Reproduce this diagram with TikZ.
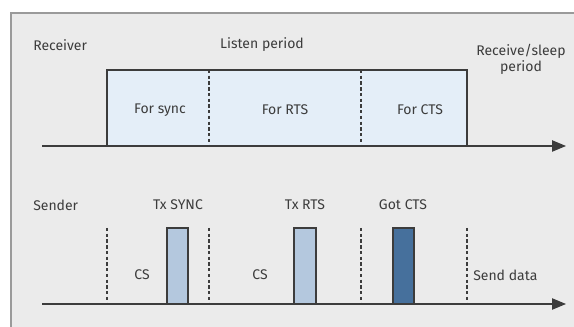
\documentclass[tikz,border=0pt]{standalone}
\usepackage{fontspec}
\setmainfont{Fira Sans}
\usepackage{xcolor}
\usepackage{tikz}
\usetikzlibrary{arrows.meta}

\definecolor{panelgray}{HTML}{EBEBEB}
\definecolor{framegray}{HTML}{9A9A9A}
\definecolor{lightblue}{HTML}{E4EEF8}
\definecolor{barblue}{HTML}{B4C8DE}
\definecolor{darkblue}{HTML}{46709C}
\definecolor{inkgray}{HTML}{3C3C3C}

\begin{document}
\begin{tikzpicture}[x=0.75pt, y=-0.75pt,
    lbl/.style={font=\fontsize{10.5}{12}\selectfont, text=inkgray, inner sep=0pt},
    axis/.style={draw=inkgray, line width=1pt, -{Triangle[length=10.5pt, width=8.5pt]}},
    edge/.style={draw=inkgray, line width=1pt},
    sep/.style={draw=inkgray, line width=0.9pt, dash pattern=on 2.5pt off 1.8pt}]
    \useasboundingbox (0,0) rectangle (574,327);
    \fill[white] (0,0) rectangle (574,327);
    \fill[panelgray] (11,13) rectangle (574,327);
    \draw[framegray, line width=0.8pt] (11,327) -- (11,13) -- (574,13);

    % receiver
    \coordinate (r0) at (42,146);
    \coordinate (r1) at (566,146);
    \fill[lightblue] (107,70) rectangle (467,146);
    \draw[edge] (107,146) -- (107,70) -- (467,70) -- (467,146);
    \draw[sep] (209,70) -- (209,146);
    \draw[sep] (361,70) -- (361,146);
    \draw[axis] (r0) -- (r1);

    \node[lbl, anchor=west] at (33,45) (rcv) {Receiver};
    \node[lbl] at (262,45) (listen) {Listen period};
    \node[lbl, align=center] at (521,59) (sleep) {Receive/sleep\\period};
    \node[lbl] at (160,110) (sync) {For sync};
    \node[lbl] at (285,110) (rts) {For RTS};
    \node[lbl] at (420,110) (cts) {For CTS};

    % sender
    \coordinate (s0) at (42,304);
    \coordinate (s1) at (566,304);
    \draw[sep] (107,228) -- (107,304);
    \draw[sep] (209,228) -- (209,304);
    \draw[sep] (361,228) -- (361,304);
    \draw[sep] (467,228) -- (467,304);
    \draw[edge, fill=barblue] (167,304) rectangle (188,228);
    \draw[edge, fill=barblue] (294,304) rectangle (316,228);
    \draw[edge, fill=darkblue] (393,304) rectangle (414,228);
    \draw[axis] (s0) -- (s1);

    \node[lbl, anchor=west] at (33,205) (snd) {Sender};
    \node[lbl] at (178,205) (txsync) {Tx SYNC};
    \node[lbl] at (305,205) (txrts) {Tx RTS};
    \node[lbl] at (403,205) (gotcts) {Got CTS};
    \node[lbl] at (142,275) (cs1) {CS};
    \node[lbl] at (260,275) (cs2) {CS};
    \node[lbl, anchor=west] at (473,275) (send) {Send data};
\end{tikzpicture}
\end{document}
